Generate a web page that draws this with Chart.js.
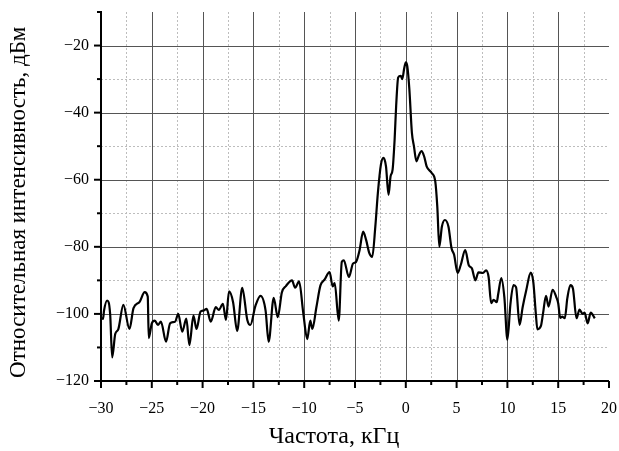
<!DOCTYPE html>
<html>
<head>
<meta charset="utf-8">
<script src="https://cdn.jsdelivr.net/npm/chart.js@4"></script>
<style>
  html, body { margin: 0; padding: 0; background: #fff; }
  #wrap { width: 619px; height: 451px; }
</style>
</head>
<body>
<div id="wrap"><canvas id="spectrum" width="619" height="451"></canvas></div>
<script>
// Frequency, kHz
const freq = [
  -29.9, -29.8, -29.7, -29.4, -29.1, -28.9, -28.6, -28.3, -27.8, -27.2,
  -26.8, -26.2, -25.7, -25.4, -25.3, -25.0, -24.7, -24.4, -24.1, -23.6,
  -23.2, -22.7, -22.4, -22.0, -21.6, -21.3, -20.9, -20.6, -20.2, -19.9,
  -19.6, -19.2, -18.7, -18.4, -18.0, -17.7, -17.4, -17.0, -16.6, -16.1,
  -15.6, -15.3, -14.8, -14.3, -13.8, -13.5, -13.0, -12.6, -12.2, -11.8,
  -11.2, -10.9, -10.5, -10.1, -9.7, -9.4, -9.2, -8.8, -8.4, -8.0,
  -7.5, -7.2, -7.0, -6.6, -6.3, -6.1, -5.6, -5.2, -4.9, -4.55,
  -4.2, -3.9, -3.6, -3.3, -3.0, -2.75, -2.45, -2.2, -1.95, -1.7,
  -1.5, -1.3, -1.1, -0.95, -0.75, -0.5, -0.35, -0.15, 0, 0.15,
  0.35, 0.6, 0.8, 1.05, 1.3, 1.55, 1.8, 2.05, 2.55, 2.9,
  3.1, 3.3, 3.55, 3.85, 4.2, 4.5, 4.75, 5.1, 5.4, 5.85,
  6.2, 6.5, 6.85, 7.15, 7.6, 7.9, 8.15, 8.4, 8.65, 8.95,
  9.1, 9.4, 9.7, 10.0, 10.3, 10.6, 10.85, 11.2, 11.5, 11.85,
  12.3, 12.55, 12.8, 12.95, 13.3, 13.5, 13.8, 14.05, 14.45, 14.8,
  15.0, 15.2, 15.4, 15.65, 15.9, 16.2, 16.45, 16.8, 17.1, 17.4,
  17.6, 17.9, 18.2, 18.6
];
// Relative intensity, dBm
const level = [
  -101, -101.5, -99, -96, -100, -113, -106, -104.6, -97.3, -104.5,
  -98.3, -96.4, -93.5, -94.8, -107.2, -102.8, -102, -103.3, -102.3, -108.3,
  -102.8, -102.3, -100, -105.3, -101.4, -109.3, -100.5, -104.5, -99.3, -99,
  -98.5, -102.3, -98, -98.8, -97, -101.8, -93.3, -96.5, -105.1, -92.2,
  -101.8, -103.3, -97.6, -94.6, -99, -108.3, -95.2, -101, -93.6, -91.7,
  -90, -92.2, -90.3, -99.5, -107.5, -102, -104.5, -98, -91.5, -89.8,
  -87.5, -91.8, -90.8, -102, -84.5, -84, -89, -85, -84.5, -81,
  -75.5, -78, -81.8, -83, -74, -64, -55.5, -53.5, -56, -64.5,
  -59, -57, -48, -38, -29.5, -29, -30, -26.7, -25, -26.2,
  -33, -46, -50, -54.5, -52.6, -51.5, -53, -56, -58, -60.5,
  -68, -80, -74, -72, -74, -80.4, -82.3, -87.8, -85.5, -81,
  -85.5, -86.4, -90, -87.6, -87.8, -87, -89, -96.8, -95.8, -96.5,
  -94, -89.3, -95, -107.7, -97, -91.4, -92, -103.3, -98, -93,
  -87.7, -90.5, -100, -104.6, -103.6, -100, -94.6, -97.8, -92.8, -94.9,
  -96.8, -101.2, -100.8, -101.3, -95.3, -91.4, -92.4, -101.3, -98.7, -100,
  -99.6, -102.8, -99.6, -101.3
];
const xTicks = [-30, -25, -20, -15, -10, -5, 0, 5, 10, 15, 20];
const yTicks = [-120, -100, -80, -60, -40, -20];

const fmt = v => (v < 0 ? '\u2212' + Math.abs(v) : String(v));

// grid, axis lines and tick marks drawn from the scales
const axesPlugin = {
  id: 'axesPlugin',
  beforeDatasetsDraw(chart) {
    const ctx = chart.ctx;
    const xs = chart.scales.x, ys = chart.scales.y;
    const a = chart.chartArea;
    ctx.save();
    // minor dotted grid
    ctx.strokeStyle = '#bdbdbd';
    ctx.lineWidth = 1;
    ctx.setLineDash([2, 2]);
    for (let v = -27.5; v < 20; v += 5) {
      const px = Math.round(xs.getPixelForValue(v)) + 0.5;
      ctx.beginPath(); ctx.moveTo(px, a.top); ctx.lineTo(px, a.bottom); ctx.stroke();
    }
    for (let v = -110; v < -10; v += 20) {
      const py = Math.round(ys.getPixelForValue(v)) + 0.5;
      ctx.beginPath(); ctx.moveTo(a.left, py); ctx.lineTo(a.right, py); ctx.stroke();
    }
    // major solid grid
    ctx.setLineDash([]);
    ctx.strokeStyle = '#555';
    for (let v = -25; v < 20; v += 5) {
      const px = Math.round(xs.getPixelForValue(v)) + 0.5;
      ctx.beginPath(); ctx.moveTo(px, a.top); ctx.lineTo(px, a.bottom); ctx.stroke();
    }
    for (let v = -100; v <= -20; v += 20) {
      const py = Math.round(ys.getPixelForValue(v)) + 0.5;
      ctx.beginPath(); ctx.moveTo(a.left, py); ctx.lineTo(a.right, py); ctx.stroke();
    }
    // axes
    ctx.strokeStyle = '#000';
    ctx.lineWidth = 2;
    ctx.beginPath();
    ctx.moveTo(a.left, a.top);
    ctx.lineTo(a.left, a.bottom);
    ctx.lineTo(a.right, a.bottom);
    ctx.stroke();
    // tick marks
    for (let v = -30; v <= 20; v += 2.5) {
      const px = xs.getPixelForValue(v);
      const len = (v % 5 === 0) ? 7 : 4;
      ctx.beginPath(); ctx.moveTo(px, a.bottom); ctx.lineTo(px, a.bottom + len); ctx.stroke();
    }
    for (let v = -120; v <= -10; v += 10) {
      const py = ys.getPixelForValue(v);
      const len = (v % 20 === 0) ? 7 : 4;
      ctx.beginPath(); ctx.moveTo(a.left - len, py); ctx.lineTo(a.left + 1, py); ctx.stroke();
    }
    ctx.restore();
  }
};

const serif = '"Liberation Serif", "Times New Roman", serif';

new Chart(document.getElementById('spectrum').getContext('2d'), {
  type: 'line',
  data: {
    datasets: [{
      data: freq.map((f, i) => ({ x: f, y: level[i] })),
      borderColor: '#000',
      borderWidth: 2.2,
      pointRadius: 0,
      cubicInterpolationMode: 'monotone',
      fill: false
    }]
  },
  options: {
    responsive: false,
    animation: false,
    layout: { padding: { left: 0, top: 12, right: 10, bottom: 0 } },
    plugins: { legend: { display: false }, tooltip: { enabled: false } },
    scales: {
      x: {
        type: 'linear',
        min: -30,
        max: 20,
        afterBuildTicks: s => { s.ticks = xTicks.map(v => ({ value: v })); },
        afterFit: s => { s.height = 70; s.paddingLeft = 0; s.paddingRight = 0; },
        grid: { display: false, drawTicks: false },
        border: { display: false },
        ticks: {
          padding: 18,
          color: '#000',
          maxRotation: 0,
          autoSkip: false,
          font: { family: serif, size: 16 },
          callback: v => fmt(v)
        },
        title: {
          display: true,
          // trailing no-break spaces nudge the centred title left, as in the source
          text: 'Частота, кГц' + '\u00a0'.repeat(7),
          color: '#000',
          font: { family: serif, size: 24 },
          padding: { top: 0, bottom: 0 }
        }
      },
      y: {
        type: 'linear',
        min: -120,
        max: -10,
        afterBuildTicks: s => { s.ticks = yTicks.map(v => ({ value: v })); },
        afterFit: s => { s.width = 101; s.paddingTop = 0; s.paddingBottom = 0; },
        grid: { display: false, drawTicks: false },
        border: { display: false },
        ticks: {
          padding: 12,
          color: '#000',
          font: { family: serif, size: 16 },
          callback: v => fmt(v)
        },
        title: {
          display: true,
          text: 'Относительная интенсивность, дБм' + '\u00a0'.repeat(2),
          color: '#000',
          font: { family: serif, size: 23 },
          padding: { top: 5, bottom: 0 }
        }
      }
    }
  },
  plugins: [axesPlugin]
});
</script>
</body>
</html>
